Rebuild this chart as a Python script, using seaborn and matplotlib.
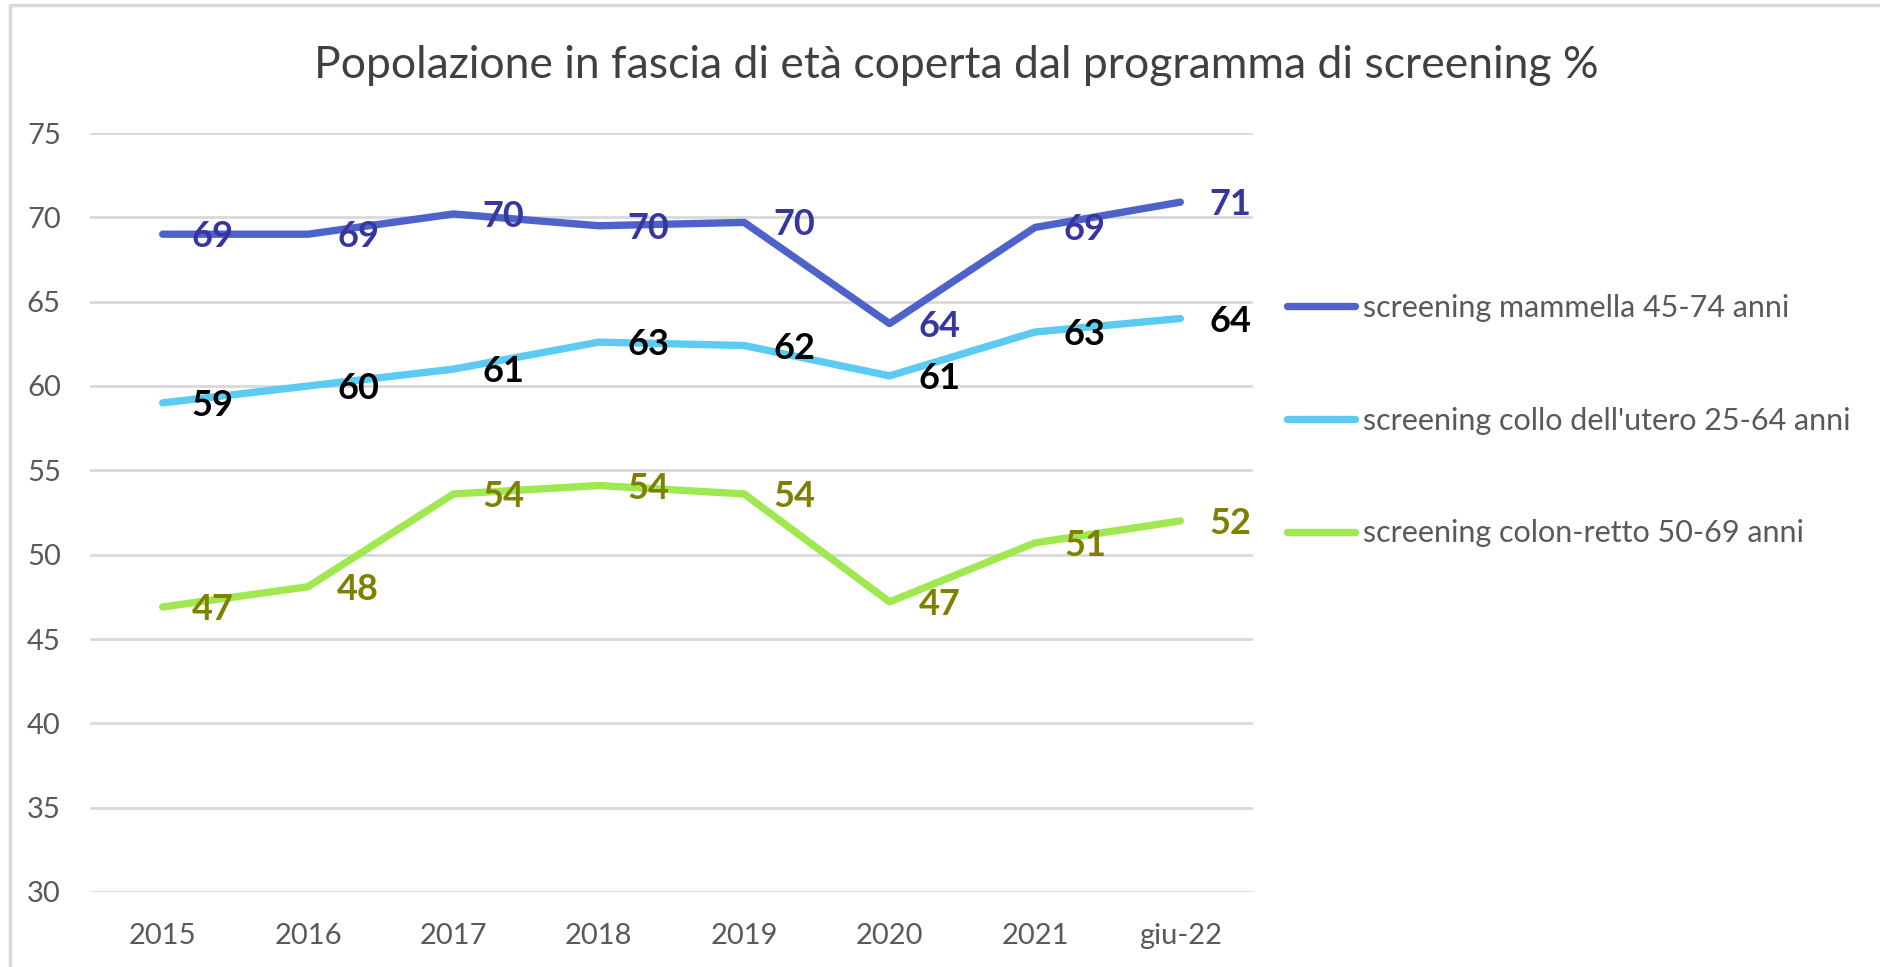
import matplotlib
matplotlib.use("Agg")
import matplotlib.pyplot as plt
from matplotlib.lines import Line2D
import seaborn as sns

categories = ["2015", "2016", "2017", "2018", "2019", "2020", "2021", "giu-22"]
mammella = [69.0, 69.0, 70.2, 69.5, 69.7, 63.7, 69.4, 70.9]
utero = [59.0, 60.0, 61.0, 62.6, 62.4, 60.6, 63.2, 64.0]
colon = [46.9, 48.1, 53.6, 54.1, 53.6, 47.2, 50.7, 52.0]
series_names = ["screening mammella 45-74 anni",
                "screening collo dell'utero 25-64 anni",
                "screening colon-retto 50-69 anni"]
title = "Popolazione in fascia di età coperta dal programma di screening %"
yticks = [30, 35, 40, 45, 50, 55, 60, 65, 70, 75]

line_colors = ["#4D63C9", "#5BCBF3", "#A0E850"]
label_colors = ["#36369E", "#000000", "#7F7F00"]

sns.set_theme(style="white")
plt.rcParams["font.family"] = ["Lato", "DejaVu Sans"]

W, H = 1880, 967
fig = plt.figure(figsize=(W / 100, H / 100), dpi=100)
ax = fig.add_axes([90 / W, 1 - 892 / H, (1253 - 90) / W, (892 - 133) / H])

for vals, name, lc in zip([mammella, utero, colon], series_names, line_colors):
    sns.lineplot(x=categories, y=vals, ax=ax, color=lc, linewidth=5.3,
                 label=name, sort=False, solid_capstyle="round")

for vals, tc in zip([mammella, utero, colon], label_colors):
    for i, v in enumerate(vals):
        ax.annotate(f"{v:.0f}", xy=(i, v), xytext=(29, -13),
                    textcoords="offset pixels", ha="left", va="baseline",
                    fontsize=26, fontweight="bold", color=tc)

ax.set_xlim(-0.5, len(categories) - 0.5)
ax.set_ylim(30, 75)
ax.set_yticks(yticks)
ax.grid(axis="y", color="#D9D9D9", linewidth=2.0)
ax.grid(axis="x", visible=False)
ax.set_axisbelow(True)
for s in ax.spines.values():
    s.set_visible(False)
ax.tick_params(axis="both", length=0, labelsize=21, labelcolor="#595959")
ax.tick_params(axis="y", pad=21)
ax.tick_params(axis="x", pad=22)
ax.set_xlabel("")
ax.set_ylabel("")

handles = ax.get_lines()[:3]
leg = ax.legend(handles, series_names, loc="upper left",
                bbox_to_anchor=(1287 / W, 1 - 294 / H), bbox_transform=fig.transFigure,
                frameon=False, fontsize=22, handlelength=2.22, handletextpad=0.28,
                labelspacing=2.77, borderpad=0, borderaxespad=0)
for t in leg.get_texts():
    t.set_color("#595959")

fig.text(956 / W, 1 - 78 / H, title, ha="center", va="baseline",
         fontsize=32, color="#404040")

fig.add_artist(Line2D([9.5 / W, 1], [1 - 5 / H, 1 - 5 / H], transform=fig.transFigure,
                      color="#D9D9D9", linewidth=2.5))
fig.add_artist(Line2D([9.5 / W, 9.5 / W], [0, 1 - 5 / H], transform=fig.transFigure,
                      color="#D9D9D9", linewidth=2.5))

fig.savefig("out.png", dpi=100, facecolor="white")
